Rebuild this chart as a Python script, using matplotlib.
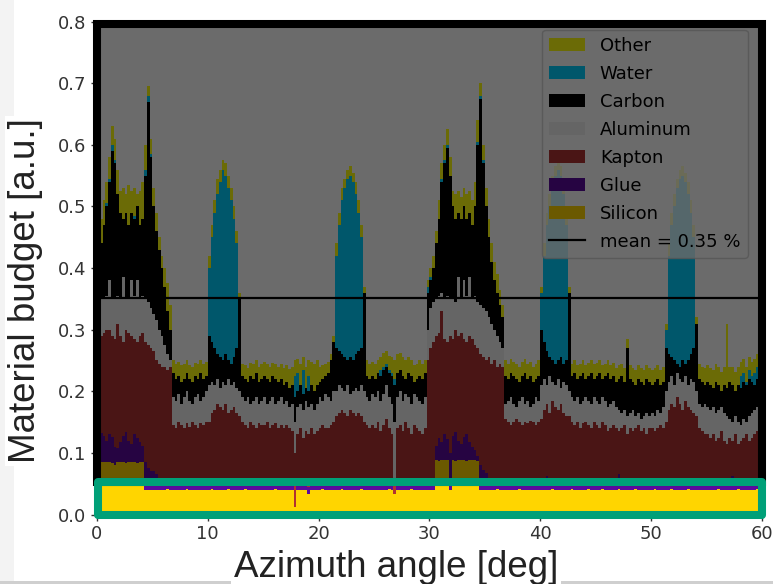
import numpy as np
import matplotlib
matplotlib.use("Agg")
import matplotlib.pyplot as plt
from matplotlib.patches import Rectangle, Patch
from matplotlib.lines import Line2D

# azimuth bins of 0.25 deg from 0 to 60 deg
bin_width = 0.25

# upper edge of each stacked layer (one row = 5 deg)
silicon_top = [
    0.084, 0.086, 0.085, 0.086, 0.085, 0.084, 0.080, 0.085, 0.086, 0.085, 0.084, 0.086, 0.085, 0.085, 0.084, 0.086, 0.085, 0.040, 0.040, 0.040,
    0.040, 0.040, 0.039, 0.040, 0.040, 0.041, 0.040, 0.040, 0.039, 0.040, 0.040, 0.040, 0.041, 0.040, 0.040, 0.039, 0.040, 0.040, 0.040, 0.040,
    0.040, 0.041, 0.040, 0.039, 0.040, 0.040, 0.040, 0.041, 0.040, 0.039, 0.040, 0.040, 0.040, 0.041, 0.040, 0.040, 0.039, 0.040, 0.040, 0.040,
    0.040, 0.040, 0.039, 0.040, 0.041, 0.040, 0.040, 0.040, 0.039, 0.040, 0.040, 0.012, 0.040, 0.039, 0.040, 0.040, 0.033, 0.040, 0.039, 0.040,
    0.040, 0.041, 0.040, 0.040, 0.039, 0.040, 0.040, 0.040, 0.041, 0.040, 0.040, 0.039, 0.040, 0.040, 0.040, 0.041, 0.040, 0.040, 0.039, 0.040,
    0.040, 0.040, 0.039, 0.040, 0.040, 0.041, 0.040, 0.033, 0.040, 0.039, 0.040, 0.040, 0.040, 0.041, 0.040, 0.039, 0.040, 0.040, 0.040, 0.040,
    0.040, 0.040, 0.088, 0.087, 0.088, 0.089, 0.088, 0.040, 0.088, 0.087, 0.089, 0.088, 0.088, 0.087, 0.088, 0.089, 0.088, 0.087, 0.040, 0.040,
    0.040, 0.040, 0.039, 0.040, 0.041, 0.040, 0.040, 0.040, 0.039, 0.040, 0.040, 0.040, 0.041, 0.040, 0.039, 0.040, 0.040, 0.040, 0.040, 0.039,
    0.040, 0.039, 0.040, 0.040, 0.041, 0.040, 0.040, 0.039, 0.040, 0.040, 0.040, 0.041, 0.040, 0.040, 0.039, 0.040, 0.040, 0.041, 0.040, 0.040,
    0.040, 0.040, 0.041, 0.040, 0.039, 0.040, 0.040, 0.040, 0.041, 0.040, 0.039, 0.040, 0.040, 0.040, 0.041, 0.040, 0.040, 0.039, 0.040, 0.040,
    0.040, 0.041, 0.040, 0.040, 0.039, 0.040, 0.040, 0.041, 0.040, 0.040, 0.039, 0.040, 0.040, 0.041, 0.040, 0.040, 0.040, 0.039, 0.040, 0.040,
    0.040, 0.040, 0.039, 0.040, 0.041, 0.040, 0.040, 0.040, 0.039, 0.040, 0.040, 0.041, 0.040, 0.040, 0.039, 0.040, 0.040, 0.040, 0.041, 0.040,
]
glue_top = [
    0.125, 0.132, 0.128, 0.120, 0.130, 0.126, 0.110, 0.108, 0.118, 0.128, 0.134, 0.120, 0.115, 0.130, 0.124, 0.118, 0.112, 0.085, 0.075, 0.070,
    0.070, 0.065, 0.060, 0.058, 0.055, 0.052, 0.050, 0.050, 0.047, 0.050, 0.052, 0.050, 0.046, 0.050, 0.051, 0.050, 0.047, 0.050, 0.050, 0.050,
    0.050, 0.051, 0.050, 0.046, 0.050, 0.052, 0.050, 0.050, 0.051, 0.047, 0.050, 0.050, 0.052, 0.050, 0.046, 0.050, 0.051, 0.050, 0.050, 0.047,
    0.050, 0.050, 0.047, 0.051, 0.050, 0.050, 0.052, 0.050, 0.046, 0.050, 0.050, 0.012, 0.050, 0.047, 0.050, 0.051, 0.044, 0.050, 0.047, 0.050,
    0.050, 0.051, 0.050, 0.050, 0.046, 0.050, 0.052, 0.050, 0.050, 0.055, 0.050, 0.047, 0.050, 0.050, 0.051, 0.050, 0.050, 0.046, 0.050, 0.050,
    0.050, 0.050, 0.047, 0.051, 0.050, 0.050, 0.050, 0.033, 0.050, 0.046, 0.050, 0.052, 0.050, 0.050, 0.050, 0.047, 0.050, 0.051, 0.050, 0.050,
    0.052, 0.056, 0.112, 0.125, 0.118, 0.130, 0.122, 0.100, 0.128, 0.134, 0.120, 0.115, 0.126, 0.131, 0.118, 0.110, 0.104, 0.095, 0.080, 0.072,
    0.068, 0.060, 0.055, 0.052, 0.050, 0.051, 0.050, 0.055, 0.050, 0.047, 0.050, 0.052, 0.050, 0.050, 0.051, 0.050, 0.046, 0.050, 0.052, 0.050,
    0.050, 0.058, 0.062, 0.050, 0.051, 0.050, 0.047, 0.050, 0.052, 0.050, 0.050, 0.046, 0.050, 0.060, 0.050, 0.051, 0.050, 0.047, 0.050, 0.050,
    0.050, 0.047, 0.050, 0.051, 0.050, 0.050, 0.046, 0.050, 0.065, 0.050, 0.050, 0.047, 0.050, 0.052, 0.050, 0.050, 0.046, 0.050, 0.051, 0.050,
    0.050, 0.047, 0.050, 0.050, 0.051, 0.050, 0.050, 0.046, 0.050, 0.058, 0.050, 0.050, 0.047, 0.050, 0.051, 0.050, 0.050, 0.046, 0.050, 0.050,
    0.050, 0.047, 0.050, 0.051, 0.050, 0.050, 0.046, 0.050, 0.050, 0.062, 0.050, 0.050, 0.047, 0.050, 0.055, 0.050, 0.046, 0.050, 0.051, 0.050,
]
kapton_top = [
    0.270, 0.290, 0.295, 0.300, 0.300, 0.290, 0.285, 0.310, 0.290, 0.280, 0.300, 0.295, 0.290, 0.285, 0.280, 0.290, 0.295, 0.280, 0.275, 0.270,
    0.265, 0.250, 0.245, 0.240, 0.240, 0.235, 0.240, 0.145, 0.140, 0.150, 0.145, 0.140, 0.148, 0.142, 0.150, 0.145, 0.140, 0.148, 0.145, 0.150,
    0.150, 0.165, 0.170, 0.180, 0.175, 0.170, 0.180, 0.165, 0.170, 0.175, 0.165, 0.160, 0.150, 0.145, 0.140, 0.150, 0.145, 0.140, 0.148, 0.145,
    0.145, 0.150, 0.140, 0.145, 0.148, 0.140, 0.145, 0.140, 0.145, 0.140, 0.135, 0.100, 0.130, 0.140, 0.125, 0.135, 0.130, 0.140, 0.130, 0.135,
    0.140, 0.145, 0.140, 0.140, 0.145, 0.150, 0.160, 0.165, 0.170, 0.165, 0.160, 0.170, 0.165, 0.160, 0.165, 0.160, 0.150, 0.145, 0.140, 0.145,
    0.140, 0.150, 0.135, 0.145, 0.155, 0.140, 0.130, 0.060, 0.140, 0.145, 0.135, 0.150, 0.140, 0.130, 0.145, 0.140, 0.135, 0.130, 0.140, 0.250,
    0.270, 0.280, 0.290, 0.295, 0.330, 0.285, 0.280, 0.290, 0.285, 0.300, 0.290, 0.295, 0.285, 0.280, 0.290, 0.285, 0.275, 0.270, 0.260, 0.255,
    0.250, 0.255, 0.245, 0.250, 0.240, 0.245, 0.240, 0.155, 0.150, 0.145, 0.150, 0.155, 0.150, 0.145, 0.150, 0.148, 0.152, 0.150, 0.145, 0.150,
    0.155, 0.170, 0.180, 0.165, 0.185, 0.175, 0.170, 0.180, 0.165, 0.160, 0.160, 0.150, 0.145, 0.150, 0.140, 0.148, 0.150, 0.145, 0.140, 0.150,
    0.145, 0.140, 0.150, 0.145, 0.135, 0.140, 0.145, 0.140, 0.135, 0.140, 0.145, 0.130, 0.140, 0.135, 0.140, 0.145, 0.135, 0.140, 0.130, 0.140,
    0.140, 0.135, 0.140, 0.145, 0.140, 0.150, 0.170, 0.180, 0.175, 0.190, 0.180, 0.170, 0.185, 0.175, 0.170, 0.165, 0.160, 0.140, 0.135, 0.130,
    0.130, 0.125, 0.130, 0.120, 0.125, 0.135, 0.120, 0.115, 0.125, 0.120, 0.130, 0.115, 0.120, 0.125, 0.130, 0.120, 0.125, 0.130, 0.135, 0.130,
]
aluminum_top = [
    0.330, 0.350, 0.350, 0.355, 0.380, 0.350, 0.350, 0.355, 0.350, 0.385, 0.350, 0.350, 0.380, 0.355, 0.380, 0.350, 0.355, 0.350, 0.345, 0.335,
    0.325, 0.315, 0.300, 0.290, 0.275, 0.260, 0.250, 0.190, 0.185, 0.195, 0.180, 0.190, 0.200, 0.185, 0.180, 0.190, 0.195, 0.185, 0.190, 0.200,
    0.210, 0.215, 0.210, 0.220, 0.205, 0.215, 0.210, 0.220, 0.210, 0.215, 0.205, 0.200, 0.190, 0.185, 0.190, 0.180, 0.185, 0.190, 0.180, 0.185,
    0.190, 0.180, 0.185, 0.190, 0.180, 0.185, 0.190, 0.180, 0.185, 0.175, 0.180, 0.150, 0.175, 0.180, 0.170, 0.185, 0.175, 0.180, 0.170, 0.180,
    0.190, 0.185, 0.195, 0.190, 0.185, 0.200, 0.200, 0.210, 0.205, 0.200, 0.210, 0.195, 0.200, 0.205, 0.200, 0.210, 0.200, 0.190, 0.185, 0.195,
    0.190, 0.200, 0.185, 0.195, 0.210, 0.190, 0.180, 0.150, 0.190, 0.200, 0.185, 0.195, 0.190, 0.180, 0.195, 0.190, 0.185, 0.180, 0.190, 0.300,
    0.335, 0.345, 0.350, 0.355, 0.360, 0.350, 0.355, 0.350, 0.350, 0.345, 0.385, 0.350, 0.380, 0.355, 0.385, 0.350, 0.355, 0.345, 0.340, 0.335,
    0.330, 0.320, 0.310, 0.300, 0.290, 0.280, 0.270, 0.180, 0.185, 0.190, 0.180, 0.175, 0.185, 0.190, 0.180, 0.185, 0.175, 0.180, 0.190, 0.185,
    0.210, 0.220, 0.210, 0.225, 0.215, 0.210, 0.220, 0.205, 0.215, 0.210, 0.200, 0.190, 0.185, 0.190, 0.180, 0.185, 0.190, 0.185, 0.180, 0.190,
    0.185, 0.180, 0.190, 0.185, 0.175, 0.180, 0.185, 0.175, 0.170, 0.165, 0.170, 0.160, 0.165, 0.170, 0.160, 0.165, 0.155, 0.160, 0.165, 0.160,
    0.165, 0.160, 0.170, 0.165, 0.175, 0.200, 0.215, 0.225, 0.210, 0.230, 0.220, 0.215, 0.225, 0.210, 0.220, 0.215, 0.200, 0.180, 0.175, 0.180,
    0.175, 0.170, 0.175, 0.165, 0.170, 0.175, 0.165, 0.160, 0.155, 0.150, 0.160, 0.150, 0.145, 0.155, 0.150, 0.160, 0.165, 0.170, 0.175, 0.170,
]
carbon_top = [
    0.410, 0.440, 0.470, 0.500, 0.540, 0.590, 0.570, 0.520, 0.490, 0.480, 0.490, 0.470, 0.490, 0.480, 0.500, 0.470, 0.480, 0.550, 0.670, 0.580,
    0.500, 0.460, 0.430, 0.400, 0.370, 0.330, 0.300, 0.230, 0.220, 0.225, 0.215, 0.220, 0.230, 0.220, 0.215, 0.225, 0.220, 0.230, 0.220, 0.225,
    0.290, 0.280, 0.270, 0.260, 0.255, 0.250, 0.260, 0.250, 0.245, 0.255, 0.270, 0.350, 0.225, 0.220, 0.215, 0.225, 0.220, 0.230, 0.215, 0.220,
    0.225, 0.220, 0.215, 0.225, 0.220, 0.215, 0.220, 0.210, 0.215, 0.205, 0.210, 0.190, 0.200, 0.210, 0.195, 0.205, 0.200, 0.210, 0.200, 0.210,
    0.215, 0.220, 0.225, 0.230, 0.250, 0.280, 0.270, 0.265, 0.260, 0.255, 0.250, 0.255, 0.250, 0.260, 0.265, 0.270, 0.360, 0.225, 0.220, 0.225,
    0.220, 0.230, 0.225, 0.235, 0.240, 0.230, 0.225, 0.210, 0.230, 0.235, 0.225, 0.220, 0.230, 0.225, 0.215, 0.220, 0.225, 0.220, 0.230, 0.360,
    0.380, 0.400, 0.440, 0.480, 0.540, 0.570, 0.595, 0.550, 0.500, 0.480, 0.490, 0.480, 0.500, 0.480, 0.490, 0.470, 0.500, 0.600, 0.675, 0.570,
    0.500, 0.450, 0.410, 0.380, 0.360, 0.340, 0.320, 0.225, 0.220, 0.230, 0.225, 0.220, 0.215, 0.225, 0.230, 0.220, 0.225, 0.215, 0.220, 0.225,
    0.300, 0.280, 0.265, 0.255, 0.250, 0.245, 0.250, 0.255, 0.245, 0.250, 0.360, 0.225, 0.230, 0.220, 0.225, 0.230, 0.220, 0.225, 0.230, 0.220,
    0.225, 0.230, 0.220, 0.225, 0.230, 0.220, 0.225, 0.215, 0.220, 0.225, 0.215, 0.270, 0.220, 0.215, 0.210, 0.220, 0.215, 0.210, 0.220, 0.215,
    0.210, 0.215, 0.220, 0.210, 0.215, 0.270, 0.260, 0.255, 0.250, 0.245, 0.240, 0.250, 0.245, 0.250, 0.260, 0.270, 0.310, 0.220, 0.215, 0.210,
    0.215, 0.210, 0.205, 0.215, 0.210, 0.200, 0.210, 0.205, 0.215, 0.210, 0.200, 0.210, 0.205, 0.215, 0.210, 0.220, 0.215, 0.210, 0.220, 0.225,
]
water_top = [
    0.410, 0.440, 0.470, 0.505, 0.545, 0.600, 0.575, 0.520, 0.490, 0.480, 0.490, 0.470, 0.490, 0.485, 0.500, 0.470, 0.480, 0.560, 0.680, 0.585,
    0.500, 0.460, 0.430, 0.400, 0.370, 0.330, 0.300, 0.230, 0.220, 0.225, 0.215, 0.220, 0.230, 0.220, 0.215, 0.225, 0.220, 0.230, 0.220, 0.225,
    0.400, 0.450, 0.490, 0.520, 0.540, 0.560, 0.550, 0.530, 0.510, 0.480, 0.440, 0.350, 0.225, 0.220, 0.215, 0.225, 0.220, 0.230, 0.215, 0.220,
    0.225, 0.220, 0.215, 0.225, 0.220, 0.215, 0.220, 0.210, 0.215, 0.205, 0.210, 0.225, 0.230, 0.210, 0.235, 0.205, 0.225, 0.210, 0.200, 0.210,
    0.215, 0.220, 0.225, 0.230, 0.250, 0.280, 0.420, 0.470, 0.510, 0.530, 0.545, 0.550, 0.540, 0.520, 0.490, 0.450, 0.360, 0.225, 0.220, 0.225,
    0.220, 0.230, 0.235, 0.240, 0.245, 0.235, 0.230, 0.220, 0.230, 0.235, 0.225, 0.220, 0.230, 0.225, 0.215, 0.220, 0.225, 0.220, 0.230, 0.370,
    0.385, 0.400, 0.440, 0.480, 0.545, 0.575, 0.600, 0.550, 0.500, 0.480, 0.490, 0.480, 0.500, 0.480, 0.490, 0.470, 0.500, 0.605, 0.680, 0.575,
    0.500, 0.450, 0.410, 0.380, 0.360, 0.340, 0.320, 0.225, 0.220, 0.230, 0.225, 0.220, 0.215, 0.225, 0.230, 0.220, 0.225, 0.215, 0.220, 0.225,
    0.360, 0.420, 0.470, 0.500, 0.530, 0.550, 0.560, 0.550, 0.520, 0.470, 0.360, 0.225, 0.230, 0.220, 0.225, 0.230, 0.220, 0.225, 0.230, 0.220,
    0.225, 0.230, 0.220, 0.225, 0.230, 0.220, 0.225, 0.215, 0.220, 0.225, 0.215, 0.270, 0.220, 0.215, 0.210, 0.220, 0.215, 0.210, 0.220, 0.215,
    0.210, 0.215, 0.220, 0.210, 0.215, 0.300, 0.420, 0.470, 0.500, 0.530, 0.545, 0.550, 0.540, 0.520, 0.490, 0.450, 0.310, 0.220, 0.215, 0.210,
    0.215, 0.210, 0.205, 0.215, 0.210, 0.200, 0.210, 0.205, 0.215, 0.210, 0.200, 0.210, 0.225, 0.230, 0.215, 0.235, 0.225, 0.230, 0.240, 0.235,
]
other_top = [
    0.440, 0.480, 0.510, 0.540, 0.580, 0.630, 0.610, 0.560, 0.525, 0.530, 0.520, 0.535, 0.525, 0.530, 0.520, 0.525, 0.540, 0.600, 0.695, 0.610,
    0.530, 0.490, 0.450, 0.420, 0.400, 0.375, 0.340, 0.250, 0.245, 0.248, 0.242, 0.245, 0.250, 0.243, 0.240, 0.246, 0.244, 0.250, 0.245, 0.248,
    0.420, 0.470, 0.510, 0.545, 0.560, 0.575, 0.570, 0.550, 0.530, 0.500, 0.460, 0.360, 0.245, 0.242, 0.238, 0.246, 0.244, 0.250, 0.240, 0.245,
    0.248, 0.244, 0.240, 0.246, 0.244, 0.240, 0.245, 0.238, 0.242, 0.236, 0.240, 0.250, 0.252, 0.245, 0.255, 0.240, 0.250, 0.248, 0.245, 0.250,
    0.240, 0.242, 0.245, 0.248, 0.260, 0.290, 0.440, 0.490, 0.530, 0.545, 0.560, 0.565, 0.555, 0.540, 0.510, 0.470, 0.370, 0.250, 0.245, 0.248,
    0.245, 0.250, 0.255, 0.262, 0.265, 0.258, 0.255, 0.250, 0.260, 0.262, 0.255, 0.250, 0.255, 0.250, 0.242, 0.245, 0.250, 0.245, 0.250, 0.380,
    0.400, 0.420, 0.460, 0.510, 0.570, 0.600, 0.625, 0.580, 0.525, 0.520, 0.525, 0.515, 0.530, 0.520, 0.525, 0.510, 0.540, 0.640, 0.700, 0.600,
    0.530, 0.480, 0.440, 0.410, 0.390, 0.365, 0.340, 0.250, 0.245, 0.252, 0.248, 0.244, 0.240, 0.248, 0.252, 0.245, 0.248, 0.240, 0.245, 0.250,
    0.370, 0.440, 0.490, 0.520, 0.550, 0.565, 0.575, 0.565, 0.540, 0.490, 0.370, 0.245, 0.250, 0.242, 0.245, 0.250, 0.242, 0.246, 0.250, 0.244,
    0.246, 0.250, 0.242, 0.245, 0.250, 0.242, 0.246, 0.238, 0.242, 0.245, 0.238, 0.285, 0.242, 0.238, 0.235, 0.242, 0.238, 0.235, 0.242, 0.238,
    0.235, 0.238, 0.242, 0.235, 0.240, 0.310, 0.440, 0.490, 0.520, 0.545, 0.560, 0.565, 0.555, 0.540, 0.510, 0.470, 0.320, 0.245, 0.240, 0.238,
    0.242, 0.238, 0.235, 0.245, 0.240, 0.232, 0.240, 0.310, 0.240, 0.240, 0.232, 0.240, 0.248, 0.252, 0.240, 0.255, 0.248, 0.252, 0.260, 0.255,
]
mean_budget = 0.352
mean_label = "mean = 0.35 %"

layer_names = ["Silicon", "Glue", "Kapton", "Aluminum", "Carbon", "Water", "Other"]
layer_tops = [silicon_top, glue_top, kapton_top, aluminum_top, carbon_top, water_top, other_top]
layer_colors = ["#ffd500", "#5c0a9e", "#b03232", "#f2f2f2", "#000000", "#00d0ff", "#ffff10"]

W, H = 773, 584
fig = plt.figure(figsize=(W / 100, H / 100), dpi=100)
fig.patch.set_facecolor("white")

# faint slide frame behind the picture
fig.add_artist(Rectangle((0, 0), 14 / W, 1, transform=fig.transFigure,
                         color="#f3f3f3", lw=0, zorder=-5))
fig.add_artist(Rectangle((0, 0), 1, 3 / H, transform=fig.transFigure,
                         color="#cfcfcf", lw=0, zorder=-5))

ax = fig.add_axes([97 / W, 69.5 / H, 664.7 / W, 492.8 / H])
ax.set_facecolor("white")

x_edges = np.arange(len(silicon_top) + 1) * bin_width
lower = np.zeros(len(x_edges))
for name, top, color in zip(layer_names, layer_tops, layer_colors):
    upper = np.append(top, top[-1])
    ax.fill_between(x_edges, lower, upper, step="post", color=color,
                    linewidth=0, zorder=1)
    lower = upper

ax.axhline(mean_budget, color="black", lw=1.6, zorder=2)

ax.set_xlim(0, 60)
ax.set_ylim(0, 0.8)
ax.set_xticks([0, 10, 20, 30, 40, 50, 60])
ax.set_yticks(np.arange(0, 0.81, 0.1))
ax.set_yticklabels(["0.0", "0.1", "0.2", "0.3", "0.4", "0.5", "0.6", "0.7", "0.8"])
ax.tick_params(labelsize=13, colors="#333333", length=4, width=1)
for s in ax.spines.values():
    s.set_visible(False)

# legend: Other on top, Silicon at the bottom
handles = [Patch(facecolor=c, edgecolor="none", label=n)
           for n, c in zip(layer_names[::-1], layer_colors[::-1])]
handles.append(Line2D([], [], color="black", lw=1.6, label=mean_label))
ax.legend(handles=handles, loc="upper right", bbox_to_anchor=(0.991, 1.0),
          fontsize=13, labelspacing=0.55, borderaxespad=0.45,
          handlelength=2.0, framealpha=0.8)

# dark veil over everything except the silicon band
ax.add_patch(Rectangle((0, 0.052), 60, 0.8 - 0.052, facecolor="black",
                       alpha=0.58, lw=0, zorder=6))
# black frame around the dimmed part
ax.add_patch(Rectangle((0, 0.052), 60, 0.744, fill=False, edgecolor="black",
                       lw=5.8, zorder=7, clip_on=False))
# green box around the silicon band
ax.add_patch(Rectangle((0.05, 0.0), 60.0, 0.052, fill=False, edgecolor="#00a078",
                       lw=5.8, joinstyle="round", zorder=8, clip_on=False))

fig.text(396 / W, 7 / H, "Azimuth angle [deg]", ha="center", va="baseline",
         fontsize=26.5, family="Liberation Sans", color="#222222",
         bbox=dict(facecolor="white", edgecolor="none", pad=2))
fig.text(25.5 / W, 293 / H, "Material budget [a.u.]", rotation=90,
         ha="center", va="center", fontsize=26.5, family="Liberation Sans",
         color="#222222", bbox=dict(facecolor="white", edgecolor="none", pad=2))

fig.savefig("out.png", dpi=100)
